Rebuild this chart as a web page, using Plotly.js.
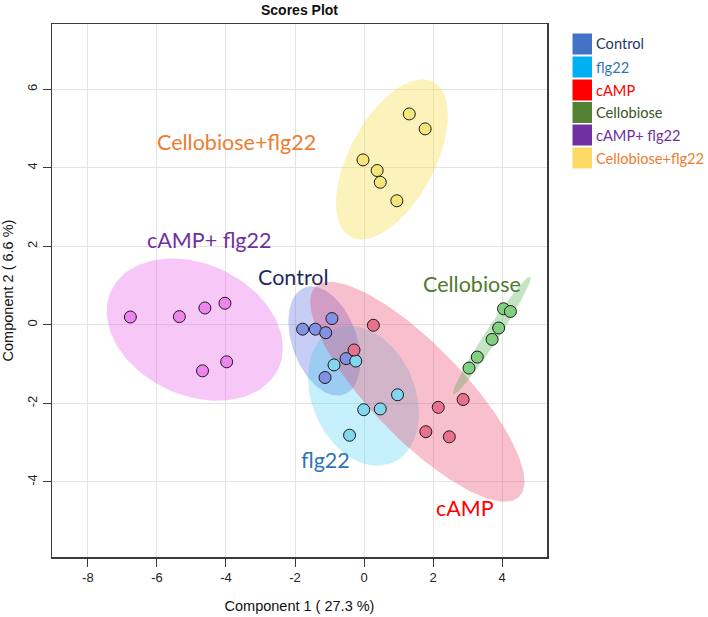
<!DOCTYPE html>
<html>
<head>
<meta charset="utf-8">
<script src="https://cdn.plot.ly/plotly-3.0.1.min.js"></script>
<style>html,body{margin:0;padding:0;background:#fff;}#chart{width:708px;height:617px;}</style>
</head>
<body>
<div id="chart"></div>
<script>
// ---- data ----
const groups = ["Control", "flg22", "cAMP", "Cellobiose", "cAMP+ flg22", "Cellobiose+flg22"];
const controlX = [-1.78, -1.41, -1.11, -0.93, -0.52, -1.13];
const controlY = [-0.11, -0.11, -0.20, 0.16, -0.86, -1.34];
const flg22X = [-0.87, -0.24, 0.97, 0.47, -0.01, -0.42];
const flg22Y = [-1.02, -0.92, -1.78, -2.14, -2.16, -2.81];
const campX = [0.27, -0.29, 1.79, 2.15, 2.87, 2.47];
const campY = [-0.01, -0.64, -2.72, -2.10, -1.90, -2.85];
const celloX = [4.04, 4.24, 3.90, 3.71, 3.28, 3.04];
const celloY = [0.41, 0.34, -0.08, -0.37, -0.82, -1.10];
const campFlgX = [-6.77, -5.35, -4.61, -4.03, -3.98, -4.68];
const campFlgY = [0.20, 0.21, 0.43, 0.55, -0.94, -1.17];
const celloFlgX = [1.31, 1.77, -0.03, 0.38, 0.47, 0.95];
const celloFlgY = [5.37, 4.99, 4.20, 3.93, 3.63, 3.16];
const xTicks = [-8, -6, -4, -2, 0, 2, 4];
const yTicks = [-4, -2, 0, 2, 4, 6];

// ---- styles ----
const seriesX = [controlX, flg22X, campX, celloX, campFlgX, celloFlgX];
const seriesY = [controlY, flg22Y, campY, celloY, campFlgY, celloFlgY];
const pointColors = ["#8291e4", "#82d6ee", "#e8718e", "#82cf82", "#ee84ee", "#f5e67a"];
const ellipseColors = ["rgba(70,90,220,0.30)", "rgba(50,200,240,0.28)", "rgba(235,60,100,0.33)",
  "rgba(60,170,60,0.30)", "rgba(232,90,232,0.34)", "rgba(246,222,70,0.36)"];
const legendSquare = ["#4472c4", "#00b0f0", "#ff0000", "#548235", "#7030a0", "#ffd966"];
const legendText = ["#1f3864", "#2e75b6", "#ff0000", "#385723", "#7030a0", "#ed7d31"];
const labelColors = ["#1f2a5c", "#2e75b6", "#ff0000", "#4f7a2f", "#7030a0", "#ed7d31"];
const labelPos = [[-2.05, 1.22], [-1.13, -3.44], [2.93, -4.66], [3.13, 1.04], [-4.49, 2.16], [-3.70, 4.66]];

// 95% confidence ellipse from sample covariance
function ellipse(xs, ys) {
  const n = xs.length;
  const mx = xs.reduce((a, b) => a + b, 0) / n;
  const my = ys.reduce((a, b) => a + b, 0) / n;
  let sxx = 0, syy = 0, sxy = 0;
  for (let i = 0; i < n; i++) {
    sxx += (xs[i] - mx) ** 2; syy += (ys[i] - my) ** 2; sxy += (xs[i] - mx) * (ys[i] - my);
  }
  sxx /= n - 1; syy /= n - 1; sxy /= n - 1;
  const r = Math.sqrt(5.991464547);
  const l11 = Math.sqrt(sxx), l21 = sxy / l11, l22 = Math.sqrt(Math.max(syy - l21 * l21, 1e-9));
  const ex = [], ey = [];
  for (let k = 0; k <= 120; k++) {
    const t = 2 * Math.PI * k / 120;
    const c = Math.cos(t), s = Math.sin(t);
    ex.push(mx + r * l11 * c);
    ey.push(my + r * (l21 * c + l22 * s));
  }
  return [ex, ey];
}

const traces = [];
groups.forEach((g, i) => {
  const [ex, ey] = ellipse(seriesX[i], seriesY[i]);
  traces.push({x: ex, y: ey, type: "scatter", mode: "lines", fill: "toself",
    fillcolor: ellipseColors[i], line: {width: 0, color: "rgba(0,0,0,0)"}, hoverinfo: "skip", showlegend: false});
});
groups.forEach((g, i) => {
  traces.push({x: seriesX[i], y: seriesY[i], type: "scatter", mode: "markers", name: g,
    marker: {size: 12, color: pointColors[i], line: {color: "#1a1a1a", width: 1}}, showlegend: false});
});

// plot area in pixels
const W = 708, H = 617, L = 52, R = 547, T = 24, B = 557;
const px2paperX = p => (p - L) / (R - L);
const px2paperY = p => (B - p) / (B - T);

const annotations = groups.map((g, i) => ({
  x: labelPos[i][0], y: labelPos[i][1], xref: "x", yref: "y", text: g, showarrow: false,
  font: {family: "Lato, 'Open Sans', sans-serif", size: 21.5, color: labelColors[i]}
}));
const shapes = [];
const rowY = [44, 67, 90, 112.5, 135, 158];
groups.forEach((g, i) => {
  shapes.push({type: "rect", xref: "paper", yref: "paper",
    x0: px2paperX(572.5), x1: px2paperX(592), y0: px2paperY(rowY[i] - 10.5), y1: px2paperY(rowY[i] + 10.5),
    fillcolor: legendSquare[i], line: {width: 0}});
  annotations.push({xref: "paper", yref: "paper", x: px2paperX(594), y: px2paperY(rowY[i]),
    xanchor: "left", yanchor: "middle", text: g, showarrow: false,
    font: {family: "Lato, 'Open Sans', sans-serif", size: 14.6, color: legendText[i]}});
});

const axisCommon = {
  showline: true, mirror: true, linecolor: "#3a3a3a", linewidth: 1.5,
  showgrid: true, gridcolor: "#e3e3e3", gridwidth: 1, zeroline: false,
  ticks: "outside", ticklen: 8, tickcolor: "#3a3a3a", tickwidth: 1,
  tickfont: {family: "Liberation Sans, Arial, sans-serif", size: 13, color: "#222"}
};

const layout = {
  width: W, height: H,
  margin: {l: L, r: W - R, t: T, b: H - B, pad: 0},
  paper_bgcolor: "#fff", plot_bgcolor: "#fff",
  showlegend: false,
  title: {text: "<b>Scores Plot</b>", x: 0.5, xref: "paper", y: 1 - 10 / H, yref: "container",
    yanchor: "middle", font: {family: "Liberation Sans, Arial, sans-serif", size: 14, color: "#111"}},
  xaxis: Object.assign({}, axisCommon, {range: [-9.04, 5.30], tickvals: xTicks, ticktext: xTicks.map(String),
    title: {text: "Component 1 ( 27.3 %)", standoff: 17,
      font: {family: "Liberation Sans, Arial, sans-serif", size: 14.5, color: "#111"}}}),
  yaxis: Object.assign({}, axisCommon, {range: [-5.91, 7.66], tickvals: yTicks, ticktext: yTicks.map(String),
    tickangle: -90,
    title: {text: "Component 2 ( 6.6 %)", standoff: 9,
      font: {family: "Liberation Sans, Arial, sans-serif", size: 14.5, color: "#111"}}}),
  annotations: annotations,
  shapes: shapes
};

Plotly.newPlot("chart", traces, layout, {displayModeBar: false, staticPlot: true});
</script>
</body>
</html>
